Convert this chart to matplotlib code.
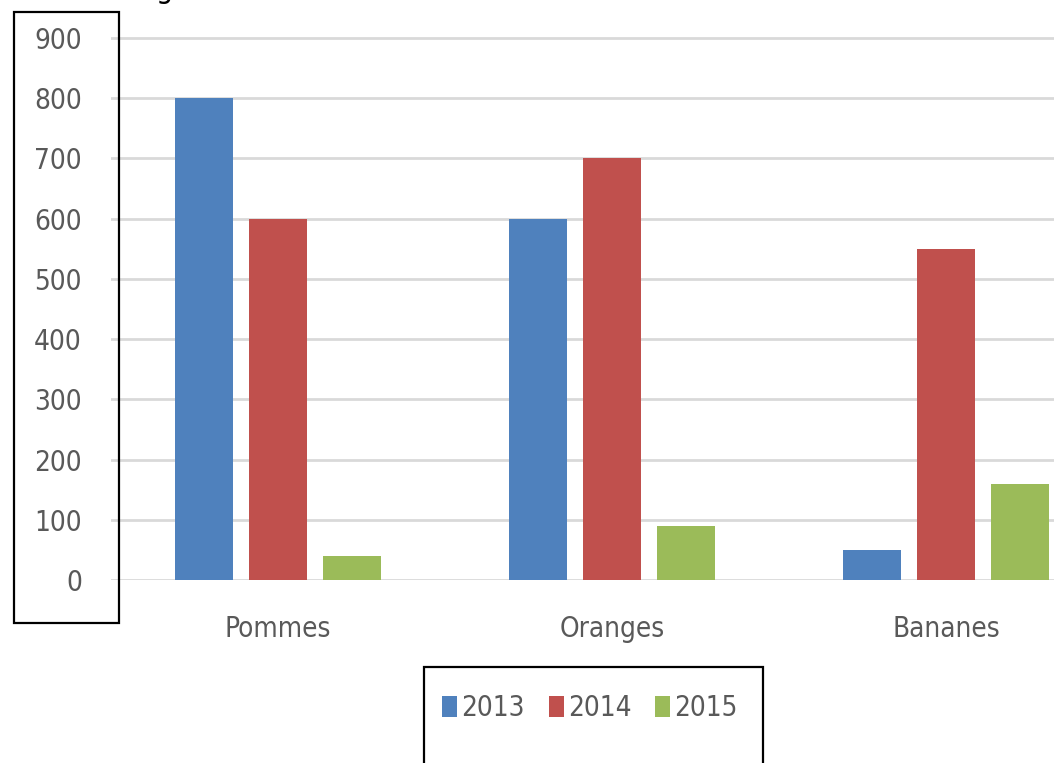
import numpy as np
import matplotlib
matplotlib.use("Agg")
import matplotlib.pyplot as plt
from matplotlib.patches import Rectangle

# données
categories = ["Pommes", "Oranges", "Bananes"]
annees = ["2013", "2014", "2015"]
valeurs_2013 = [800, 600, 50]
valeurs_2014 = [600, 700, 550]
valeurs_2015 = [40, 90, 160]
graduations = [0, 100, 200, 300, 400, 500, 600, 700, 800, 900]

couleurs = ["#4F81BD", "#C0504D", "#9BBB59"]
gris = "#595959"
plt.rcParams["font.family"] = ["DejaVu Sans"]
plt.rcParams["font.stretch"] = "condensed"
taille = 20

W, H = 1054, 763
fig = plt.figure(figsize=(W / 100, H / 100), dpi=100)

# zone de tracé (en pixels, puis ramenée en fraction)
gauche, droite = 111, 1113
y_zero, y_haut = 580, 20
ymax = 900 * (y_zero - y_haut) / (580 - 38)
ax = fig.add_axes([gauche / W, (H - y_zero) / H, (droite - gauche) / W, (y_zero - y_haut) / H])

x = np.arange(len(categories))
largeur = 0.174
pas = 0.222
for k, (serie, nom) in enumerate(zip([valeurs_2013, valeurs_2014, valeurs_2015], annees)):
    ax.bar(x + (k - 1) * pas, serie, largeur, color=couleurs[k], label=nom, zorder=3)

ax.set_xlim(-0.5, len(categories) - 0.5)
ax.set_ylim(0, ymax)
ax.set_yticks(graduations)
ax.set_xticks(x)
ax.set_xticklabels(categories)
ax.grid(axis="y", color="#D9D9D9", linewidth=2, zorder=0)
for s in ax.spines.values():
    s.set_visible(False)
ax.tick_params(axis="both", length=0, labelsize=taille, labelcolor=gris)
ax.tick_params(axis="y", pad=21)
ax.tick_params(axis="x", pad=25)

# cadre autour des graduations
fig.patches.append(Rectangle((14 / W, (H - 623) / H), (119 - 14) / W, (623 - 12) / H,
                             transform=fig.transFigure, fill=False, edgecolor="black",
                             linewidth=1.6))
# cadre de la légende (coupé en bas)
fig.patches.append(Rectangle((424 / W, -10 / H), (763 - 424) / W, (H - 667 + 10) / H,
                             transform=fig.transFigure, fill=False, edgecolor="black",
                             linewidth=1.6, clip_on=False))

leg = fig.legend(loc="center", bbox_to_anchor=(590 / W, (H - 708) / H), ncol=3,
                 frameon=False, fontsize=taille, handlelength=0.54, handleheight=0.8,
                 handletextpad=0.15, columnspacing=0.86, borderpad=0)
for t in leg.get_texts():
    t.set_color(gris)

# reste du titre coupé en haut
fig.text(164 / W, 1 + 2 / H, "g", fontsize=22, ha="center", va="baseline", color="black")

fig.savefig("out.png", dpi=100)
